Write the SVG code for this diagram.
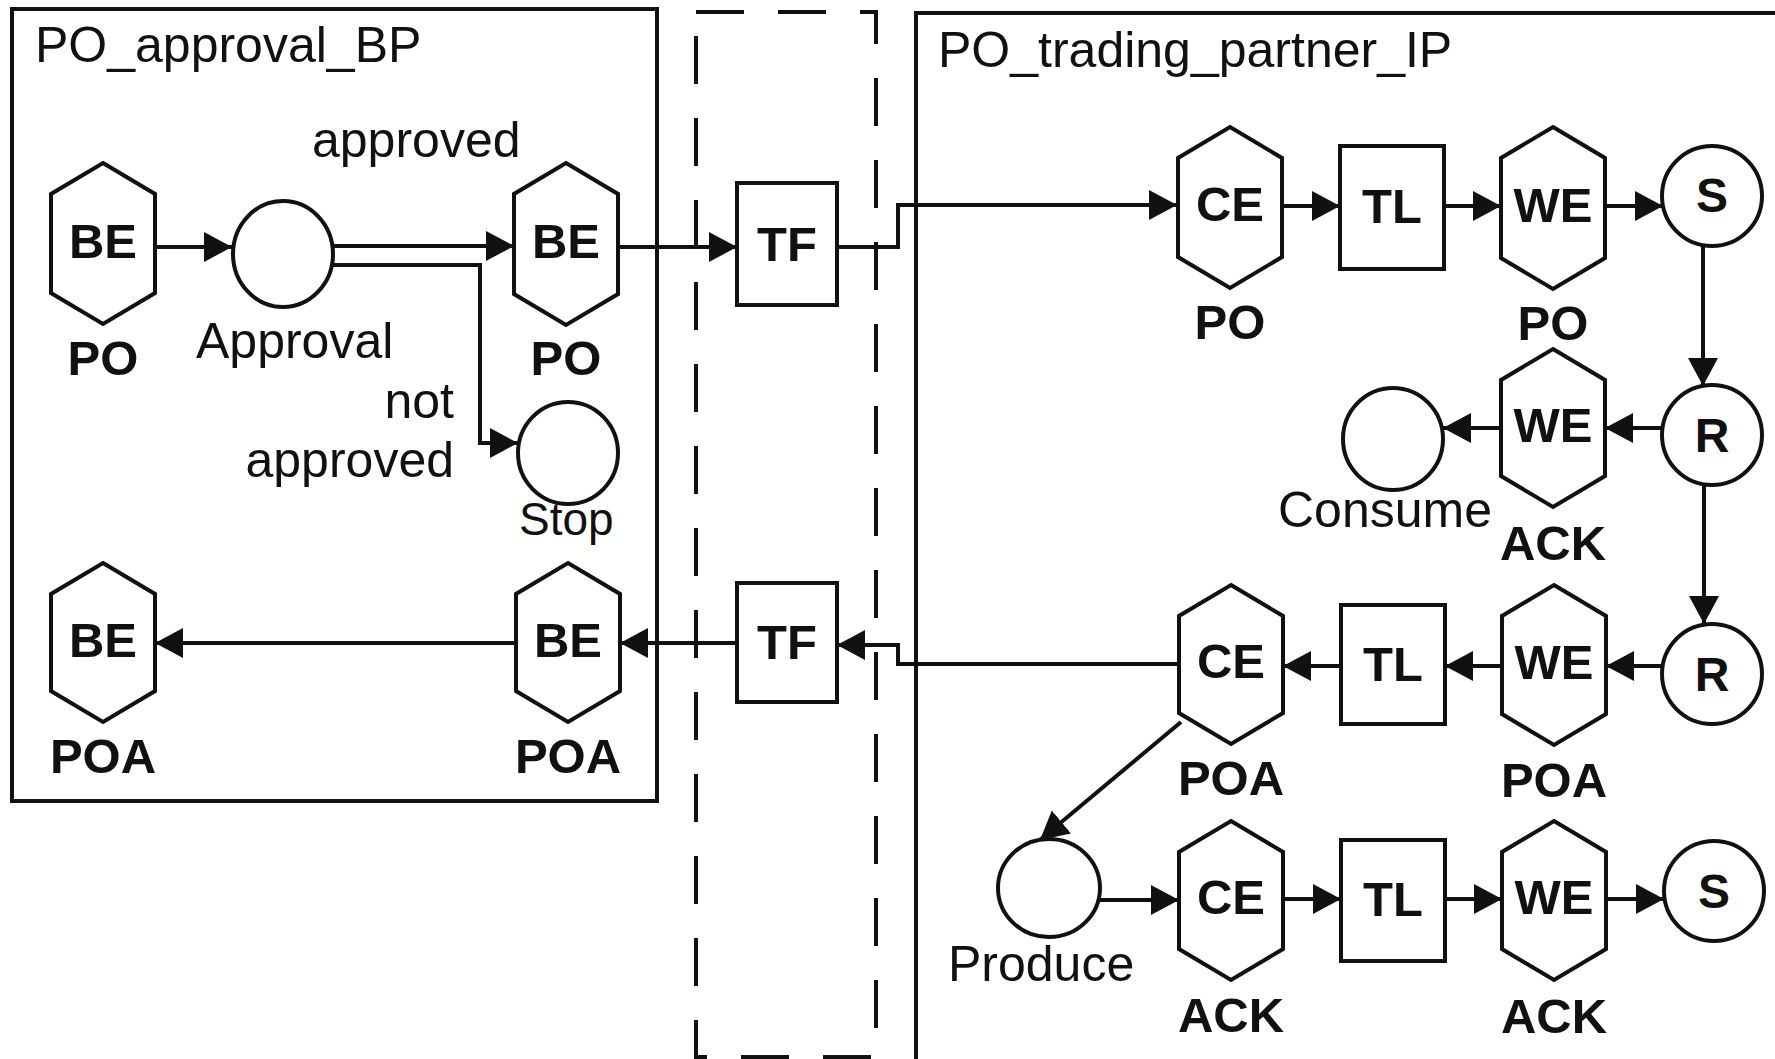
<svg xmlns="http://www.w3.org/2000/svg" width="1775" height="1059" viewBox="0 0 1775 1059">
<style>
.box{fill:none;stroke:#111;stroke-width:4}
.dash{fill:none;stroke:#111;stroke-width:4;stroke-dasharray:48 34}
.shape{fill:#fff;stroke:#111;stroke-width:4}
.edge{fill:none;stroke:#111;stroke-width:4}
.lbl{font-family:"Liberation Sans",Arial,sans-serif;font-size:50px;fill:#111}
.b{font-family:"Liberation Sans",Arial,sans-serif;font-size:49px;font-weight:bold;fill:#111;text-anchor:middle}
</style>
<defs>
<marker id="ah" markerUnits="userSpaceOnUse" markerWidth="30" markerHeight="32" refX="28" refY="15" orient="auto">
<path d="M0,0 L28,15 L0,30 z" fill="#111"/>
</marker>
</defs>
<rect width="1775" height="1059" fill="#fff"/>

<g id="containers">
<rect class="box" x="12" y="9" width="645" height="792"/>
<text class="lbl" x="35" y="62">PO_approval_BP</text>
<rect class="dash" x="696" y="12" width="180" height="1045"/>
<rect class="box" x="916" y="13" width="900" height="1100"/>
<text class="lbl" x="938" y="67">PO_trading_partner_IP</text>
</g>

<g id="connectors">
<path class="edge" d="M155,247 L232,247" marker-end="url(#ah)"/>
<path class="edge" d="M333,246 L514,246" marker-end="url(#ah)"/>
<path class="edge" d="M333,265 L480,265 L480,443 L518,443" marker-end="url(#ah)"/>
<path class="edge" d="M618,247 L737,247" marker-end="url(#ah)"/>
<path class="edge" d="M837,247 L898,247 L898,205 L1177,205" marker-end="url(#ah)"/>
<path class="edge" d="M1282,206 L1340,206" marker-end="url(#ah)"/>
<path class="edge" d="M1444,206 L1501,206" marker-end="url(#ah)"/>
<path class="edge" d="M1605,206 L1663,206" marker-end="url(#ah)"/>
<path class="edge" d="M1703,246 L1703,386" marker-end="url(#ah)"/>
<path class="edge" d="M1662,428 L1605,428" marker-end="url(#ah)"/>
<path class="edge" d="M1502,428 L1443,428" marker-end="url(#ah)"/>
<path class="edge" d="M1704,485 L1704,624" marker-end="url(#ah)"/>
<path class="edge" d="M1662,666 L1606,666" marker-end="url(#ah)"/>
<path class="edge" d="M1502,666 L1445,666" marker-end="url(#ah)"/>
<path class="edge" d="M1341,666 L1283,666" marker-end="url(#ah)"/>
<path class="edge" d="M1179,664 L898,664 L898,645 L837,645" marker-end="url(#ah)"/>
<path class="edge" d="M737,643 L620,643" marker-end="url(#ah)"/>
<path class="edge" d="M516,643 L155,643" marker-end="url(#ah)"/>
<path class="edge" d="M1181,722 L1040,840" marker-end="url(#ah)"/>
<path class="edge" d="M1100,900 L1179,900" marker-end="url(#ah)"/>
<path class="edge" d="M1283,899 L1341,899" marker-end="url(#ah)"/>
<path class="edge" d="M1445,899 L1502,899" marker-end="url(#ah)"/>
<path class="edge" d="M1606,899 L1664,899" marker-end="url(#ah)"/>
</g>

<g id="edge-labels">
<text class="lbl" x="312" y="157">approved</text>
<text class="lbl" x="454" y="418" text-anchor="end">not</text>
<text class="lbl" x="454" y="477" text-anchor="end">approved</text>
</g>

<g id="be-po-1">
<polygon class="shape" points="103,163 155,194 155,293 103,324 51,293 51,194"/>
<text class="b" x="103" y="258">BE</text>
<text class="b" x="103" y="375">PO</text>
</g>
<g id="approval">
<ellipse class="shape" cx="283" cy="254" rx="50" ry="53"/>
<text class="lbl" x="196" y="358">Approval</text>
</g>
<g id="be-po-2">
<polygon class="shape" points="566,163 618,194 618,294 566,325 514,294 514,194"/>
<text class="b" x="566" y="258">BE</text>
<text class="b" x="566" y="375">PO</text>
</g>
<g id="stop">
<ellipse class="shape" cx="568" cy="453" rx="50" ry="51"/>
<text class="lbl" x="519" y="535" style="font-size:46px">Stop</text>
</g>
<g id="be-poa-1">
<polygon class="shape" points="103,563 155,594 155,691 103,722 51,691 51,594"/>
<text class="b" x="103" y="657">BE</text>
<text class="b" x="103" y="773">POA</text>
</g>
<g id="be-poa-2">
<polygon class="shape" points="568,563 620,594 620,691 568,722 516,691 516,594"/>
<text class="b" x="568" y="657">BE</text>
<text class="b" x="568" y="773">POA</text>
</g>
<g id="tf-1">
<rect class="shape" x="737" y="183" width="100" height="122"/>
<text class="b" x="787" y="261">TF</text>
</g>
<g id="tf-2">
<rect class="shape" x="737" y="583" width="100" height="119"/>
<text class="b" x="787" y="659">TF</text>
</g>
<g id="ce-po">
<polygon class="shape" points="1230,127 1282,158 1282,257 1230,288 1178,257 1178,158"/>
<text class="b" x="1230" y="221">CE</text>
<text class="b" x="1230" y="339">PO</text>
</g>
<g id="tl-1">
<rect class="shape" x="1340" y="146" width="104" height="123"/>
<text class="b" x="1392" y="223">TL</text>
</g>
<g id="we-po">
<polygon class="shape" points="1553,127 1605,158 1605,258 1553,289 1501,258 1501,158"/>
<text class="b" x="1553" y="222">WE</text>
<text class="b" x="1553" y="340">PO</text>
</g>
<g id="s-1">
<circle class="shape" cx="1712" cy="196" r="50"/>
<text class="b" x="1712" y="212" style="font-size:48px">S</text>
</g>
<g id="r-1">
<circle class="shape" cx="1712" cy="435" r="50"/>
<text class="b" x="1712" y="452" style="font-size:48px">R</text>
</g>
<g id="we-ack-1">
<polygon class="shape" points="1553,349 1605,380 1605,476 1553,507 1501,476 1501,380"/>
<text class="b" x="1553" y="442">WE</text>
<text class="b" x="1553" y="560">ACK</text>
</g>
<g id="consume">
<ellipse class="shape" cx="1393" cy="439" rx="50" ry="51"/>
<text class="lbl" x="1278" y="527">Consume</text>
</g>
<g id="r-2">
<circle class="shape" cx="1712" cy="674" r="50"/>
<text class="b" x="1712" y="691" style="font-size:48px">R</text>
</g>
<g id="we-poa">
<polygon class="shape" points="1554,585 1606,616 1606,714 1554,745 1502,714 1502,616"/>
<text class="b" x="1554" y="679">WE</text>
<text class="b" x="1554" y="797">POA</text>
</g>
<g id="tl-2">
<rect class="shape" x="1341" y="605" width="104" height="119"/>
<text class="b" x="1393" y="681">TL</text>
</g>
<g id="ce-poa">
<polygon class="shape" points="1231,585 1283,616 1283,713 1231,744 1179,713 1179,616"/>
<text class="b" x="1231" y="678">CE</text>
<text class="b" x="1231" y="795">POA</text>
</g>
<g id="produce">
<ellipse class="shape" cx="1049" cy="888" rx="51" ry="49"/>
<text class="lbl" x="948" y="981">Produce</text>
</g>
<g id="ce-ack">
<polygon class="shape" points="1231,821 1283,852 1283,949 1231,980 1179,949 1179,852"/>
<text class="b" x="1231" y="914">CE</text>
<text class="b" x="1231" y="1032">ACK</text>
</g>
<g id="tl-3">
<rect class="shape" x="1341" y="840" width="104" height="121"/>
<text class="b" x="1393" y="916">TL</text>
</g>
<g id="we-ack-2">
<polygon class="shape" points="1554,821 1606,852 1606,949 1554,980 1502,949 1502,852"/>
<text class="b" x="1554" y="914">WE</text>
<text class="b" x="1554" y="1033">ACK</text>
</g>
<g id="s-2">
<circle class="shape" cx="1714" cy="891" r="50"/>
<text class="b" x="1714" y="908" style="font-size:48px">S</text>
</g>
</svg>
